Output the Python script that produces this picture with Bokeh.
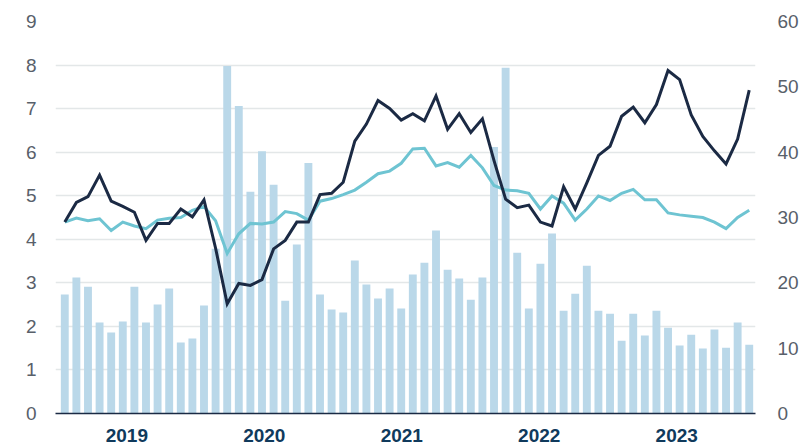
from bokeh.plotting import figure
from bokeh.models import Range1d, LinearAxis, FixedTicker, ColumnDataSource
from bokeh.embed import file_html
from bokeh.resources import INLINE

years = ["2019", "2020", "2021", "2022", "2023"]
months = [f"{y}-{m:02d}" for y in years for m in range(1, 13)]

# bar series (left axis, 0-9)
bars = [2.73, 3.12, 2.91, 2.09, 1.86, 2.11, 2.91, 2.09, 2.50, 2.87, 1.63, 1.72,
        2.48, 3.78, 7.98, 7.06, 5.09, 6.02, 5.25, 2.59, 3.88, 5.75, 2.73, 2.39,
        2.32, 3.51, 2.96, 2.64, 2.87, 2.41, 3.19, 3.46, 4.20, 3.30, 3.10, 2.61,
        3.12, 6.12, 7.94, 3.69, 2.41, 3.44, 4.13, 2.36, 2.75, 3.39, 2.36, 2.29,
        1.67, 2.29, 1.79, 2.36, 1.97, 1.56, 1.81, 1.49, 1.93, 1.51, 2.09, 1.58]

# dark line (right axis, 0-60)
dark = [29.3, 32.3, 33.2, 36.5, 32.5, 31.7, 30.8, 26.5, 29.1, 29.1, 31.3, 30.1,
        32.7, 25.3, 16.8, 19.9, 19.6, 20.5, 25.2, 26.5, 29.3, 29.3, 33.5, 33.7,
        35.4, 41.7, 44.3, 47.9, 46.7, 44.9, 45.9, 44.8, 48.6, 43.5, 45.9, 43.0,
        45.1, 38.7, 32.8, 31.5, 31.9, 29.3, 28.7, 34.7, 31.3, 35.3, 39.5, 40.9,
        45.5, 46.9, 44.5, 47.3, 52.5, 51.1, 45.7, 42.4, 40.2, 38.2, 42.0, 49.5]

# teal line (right axis, 0-60)
teal = [29.3, 29.9, 29.5, 29.8, 28.0, 29.3, 28.7, 28.3, 29.6, 29.9, 30.0, 31.1,
        31.7, 29.5, 24.5, 27.5, 29.1, 29.0, 29.3, 30.9, 30.6, 29.6, 32.5, 32.9,
        33.5, 34.2, 35.4, 36.7, 37.1, 38.3, 40.5, 40.6, 37.9, 38.4, 37.7, 39.5,
        37.6, 34.9, 34.2, 34.1, 33.7, 31.3, 33.3, 32.2, 29.6, 31.3, 33.3, 32.6,
        33.7, 34.3, 32.7, 32.7, 30.7, 30.4, 30.2, 30.0, 29.3, 28.3, 30.0, 31.1]

left_ticks = list(range(0, 10))
right_ticks = [0, 10, 20, 30, 40, 50, 60]
year_tick_pos = [5.35, 17.2, 29.05, 40.9, 52.75]

x = list(range(len(months)))
src = ColumnDataSource(dict(x=x, month=months, bars=bars, dark=dark, teal=teal))

p = figure(width=810, height=444, output_backend="svg", toolbar_location=None,
           x_range=Range1d(-0.8, 59.54), y_range=Range1d(0, 9),
           min_border_left=55, min_border_right=55, min_border_top=21,
           min_border_bottom=31)
p.extra_y_ranges = {"right": Range1d(0, 60)}
p.outline_line_color = None
p.background_fill_color = "white"
p.border_fill_color = "white"

p.vbar(x="x", top="bars", width=0.68, source=src, fill_color="#bad8e9",
       line_color=None)
p.line(x="x", y="teal", source=src, y_range_name="right", line_width=3,
       line_color="#6ec4d2", line_join="miter")
p.line(x="x", y="dark", source=src, y_range_name="right", line_width=3,
       line_color="#1b2a44", line_join="miter")

num_color = "#58606a"
font = "Liberation Sans"

# left axis
ya = p.yaxis[0]
ya.ticker = FixedTicker(ticks=left_ticks)
ya.axis_line_color = None
ya.major_tick_line_color = None
ya.minor_tick_line_color = None
ya.major_label_standoff = 13
ya.major_label_text_font = font
ya.major_label_text_font_size = "19px"
ya.major_label_text_color = num_color

# right axis
ra = LinearAxis(y_range_name="right", ticker=FixedTicker(ticks=right_ticks))
ra.axis_line_color = None
ra.major_tick_line_color = None
ra.minor_tick_line_color = None
ra.major_label_standoff = 16
ra.major_label_text_font = font
ra.major_label_text_font_size = "19px"
ra.major_label_text_color = num_color
p.add_layout(ra, "right")

# bottom axis
xa = p.xaxis[0]
xa.ticker = FixedTicker(ticks=year_tick_pos)
xa.major_label_overrides = {pos: yr for pos, yr in zip(year_tick_pos, years)}
xa.axis_line_color = "#1b2a44"
xa.axis_line_width = 1.5
xa.major_tick_line_color = None
xa.minor_tick_line_color = None
xa.major_label_standoff = 9
xa.major_label_text_font = font
xa.major_label_text_font_style = "bold"
xa.major_label_text_font_size = "19px"
xa.major_label_text_color = "#103a5c"

p.xgrid.grid_line_color = None
p.ygrid.grid_line_color = "#e3e7e8"
p.ygrid.grid_line_width = 1.5

open("out.html", "w").write(file_html(p, INLINE))
